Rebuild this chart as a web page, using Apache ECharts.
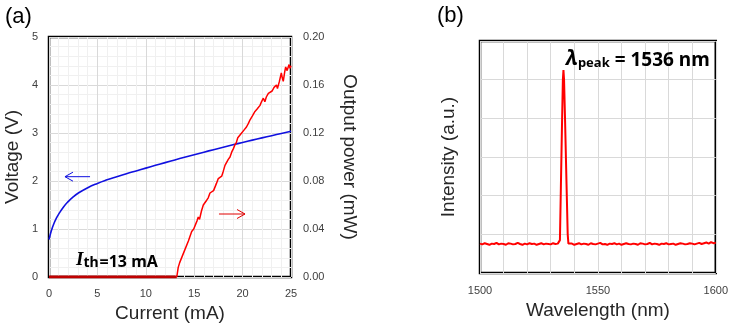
<!DOCTYPE html>
<html><head><meta charset="utf-8">
<script src="https://cdn.jsdelivr.net/npm/echarts@6/dist/echarts.min.js"></script>
<style>html,body{margin:0;padding:0;background:#fff}#c{width:731px;height:329px}</style>
</head><body><div id="c"></div>
<script>
// ---- (a) Voltage vs current ----
const ivCurrent = [0,0.1,0.25,0.5,0.75,1,1.5,2,2.5,3,4,5,6,7,8,9,10,11,12,13,14,15,16,17,18,19,20,21,22,23,24,25];
const ivVoltage = [0.78,0.86,0.97,1.11,1.22,1.31,1.46,1.575,1.67,1.745,1.86,1.95,2.025,2.09,2.152,2.21,2.268,2.326,2.383,2.439,2.494,2.548,2.601,2.653,2.704,2.754,2.803,2.851,2.898,2.944,2.99,3.035];
// ---- (a) Output power vs current ----
const liZeroCurrent = [0,13.2];
const liZeroPower = [0,0];
const liCurrent = [13.2,13.35,13.5,13.8,14.05,14.4,14.74,14.95,15.15,15.3,15.42,15.55,15.75,15.94,16.1,16.29,16.45,16.63,16.8,17.0,17.15,17.3,17.49,17.65,17.84,18.0,18.18,18.35,18.52,18.7,18.87,19.05,19.2,19.35,19.5,19.7,19.9,20.1,20.25,20.4,20.6,20.77,21.0,21.15,21.28,21.5,21.8,21.95,22.14,22.3,22.45,22.66,22.85,23.05,23.25,23.5,23.6,23.8,24.0,24.1,24.2,24.35,24.45,24.6,24.7,24.8,24.9,25.0];
const liPower = [0,0.008,0.012,0.018,0.023,0.03,0.038,0.04,0.041,0.047,0.05,0.048,0.055,0.06,0.061,0.064,0.066,0.07,0.071,0.072,0.073,0.078,0.082,0.081,0.084,0.088,0.093,0.094,0.098,0.1,0.104,0.107,0.11,0.112,0.116,0.117,0.12,0.122,0.121,0.125,0.128,0.131,0.134,0.133,0.138,0.14,0.143,0.146,0.149,0.146,0.15,0.153,0.152,0.155,0.158,0.16,0.157,0.163,0.17,0.166,0.163,0.171,0.175,0.172,0.1725,0.177,0.174,0.176];
// ---- (b) Spectrum ----
const specWl = [1500,1501,1502,1503,1504,1505,1506,1507,1508,1509,1510,1511,1512,1513,1514,1515,1516,1517,1518,1519,1520,1521,1522,1523,1524,1525,1526,1527,1528,1529,1530,1531,1532,1533,
 1533.6,1533.9,1534.3,1534.8,1535.15,1535.4,1535.65,1536.1,1536.7,1537.2,1537.5,
 1538,1539,1540,1541,1542,1543,1544,1545,1546,1547,1548,1549,1550,1551,1552,1553,1554,1555,1556,1557,1558,1559,1560,1561,1562,1563,1564,1565,1566,1567,1568,1569,1570,1571,1572,1573,1574,1575,1576,1577,1578,1579,1580,1581,1582,1583,1584,1585,1586,1587,1588,1589,1590,1591,1592,1593,1594,1595,1596,1597,1598,1599,1600];
const specInt = [0.76,0.74,0.77,0.75,0.73,0.76,0.75,0.78,0.74,0.76,0.75,0.73,0.77,0.76,0.74,0.75,0.78,0.75,0.73,0.76,0.74,0.77,0.75,0.76,0.73,0.75,0.77,0.74,0.76,0.75,0.74,0.77,0.75,0.76,
 0.76,0.85,2.2,3.9,5.0,5.25,5.0,3.9,2.3,1.0,0.76,
 0.74,0.76,0.73,0.75,0.77,0.74,0.76,0.75,0.73,0.77,0.75,0.74,0.76,0.78,0.74,0.75,0.73,0.76,0.75,0.77,0.74,0.76,0.73,0.75,0.77,0.75,0.74,0.76,0.75,0.73,0.77,0.76,0.74,0.75,0.78,0.74,0.76,0.75,0.73,0.76,0.75,0.77,0.74,0.75,0.76,0.73,0.75,0.77,0.76,0.74,0.75,0.77,0.76,0.74,0.76,0.78,0.75,0.77,0.79,0.76,0.8,0.77,0.78];
// tick settings
const xTicksA = {min:0,max:25,interval:5};
const vTicks = {min:0,max:5,interval:1};
const pTicks = {min:0,max:0.2,interval:0.04};
const wlTicks = {min:1500,max:1600,interval:10,labelEvery:50};
const intTicks = {min:0,max:6,interval:1};
// arrows (data units): [x1,y1,x2,y2] head at second point
const arrowV = [4.24,2.09,1.65,2.09];
const arrowP = [17.56,0.0525,20.25,0.0525];

const zip = (a,b)=>a.map((v,i)=>[v,b[i]]);
const SANS = 'Liberation Sans, Arial, sans-serif';
const tickLbl = {color:'#404040',fontSize:11,fontFamily:SANS};
const nameStyle = {color:'#262626',fontSize:19,fontFamily:SANS};
const major = {show:true,lineStyle:{color:'#d9d9d9',width:1}};
const minor = {show:true,lineStyle:{color:'#f0f0f0',width:1}};

const chart = echarts.init(document.getElementById('c'),null,{renderer:'canvas'});
const option = {
  animation:false,
  backgroundColor:'#fff',
  title:[
    {text:'(a)',left:0,top:1,textStyle:{fontSize:22,fontWeight:'normal',fontFamily:SANS,color:'#000'}},
    {text:'(b)',left:432,top:0,textStyle:{fontSize:22,fontWeight:'normal',fontFamily:SANS,color:'#000'}},
    {text:'{i|I}{s|th}{t|=13 mA}',left:71,top:241,textStyle:{rich:{
      i:{fontFamily:'Liberation Serif, serif',fontStyle:'italic',fontWeight:'bold',fontSize:19,color:'#000',lineHeight:24,verticalAlign:'bottom'},
      s:{fontFamily:'Noto Sans',fontWeight:'bold',fontSize:14,color:'#000',lineHeight:16,verticalAlign:'bottom'},
      t:{fontFamily:'Noto Sans',fontWeight:'bold',fontSize:16,color:'#000',lineHeight:24,verticalAlign:'bottom',padding:[0,0,0,1]}}}},
    {text:'{l|λ}{s|peak}{t| = 1536 nm}',left:561,top:39,textStyle:{rich:{
      l:{fontFamily:'Noto Sans',fontStyle:'italic',fontWeight:'bold',fontSize:21,color:'#000',lineHeight:26,verticalAlign:'bottom'},
      s:{fontFamily:'Noto Sans',fontWeight:'bold',fontSize:13,color:'#000',lineHeight:15,verticalAlign:'bottom'},
      t:{fontFamily:'Noto Sans',fontWeight:'bold',fontSize:19,color:'#000',lineHeight:26,verticalAlign:'bottom'}}}}
  ],
  grid:[
    {left:49,right:440,top:37,bottom:52,show:true,borderColor:'#000',borderWidth:2.5,backgroundColor:'transparent'},
    {left:480,right:13,top:41,bottom:56,show:true,borderColor:'#000',borderWidth:2.5,backgroundColor:'transparent'}
  ],
  xAxis:[
    {type:'value',gridIndex:0,min:xTicksA.min,max:xTicksA.max,interval:xTicksA.interval,
     name:'Current (mA)',nameLocation:'middle',nameGap:25,nameTextStyle:nameStyle,
     axisLine:{show:false},axisTick:{show:false},axisLabel:Object.assign({margin:11},tickLbl),
     splitLine:major,minorTick:{show:false,splitNumber:5},minorSplitLine:minor},
    {type:'value',gridIndex:1,min:wlTicks.min,max:wlTicks.max,interval:wlTicks.interval,
     name:'Wavelength (nm)',nameLocation:'middle',nameGap:27,nameTextStyle:nameStyle,
     axisLine:{show:false},axisTick:{show:false},
     axisLabel:Object.assign({margin:12,formatter:v=>(v%wlTicks.labelEvery===0?String(v):'')},tickLbl),
     splitLine:major}
  ],
  yAxis:[
    {type:'value',gridIndex:0,min:vTicks.min,max:vTicks.max,interval:vTicks.interval,
     name:'Voltage (V)',nameLocation:'middle',nameGap:27,nameTextStyle:nameStyle,
     axisLine:{show:false},axisTick:{show:false},axisLabel:Object.assign({margin:11},tickLbl),
     splitLine:major,minorTick:{show:false,splitNumber:5},minorSplitLine:minor},
    {type:'value',gridIndex:0,position:'right',min:pTicks.min,max:pTicks.max,interval:pTicks.interval,
     name:'Output power (mW)',nameLocation:'middle',nameGap:49,nameRotate:-90,nameTextStyle:nameStyle,
     axisLine:{show:false},axisTick:{show:false},
     axisLabel:Object.assign({margin:12,formatter:v=>v.toFixed(2)},tickLbl),splitLine:{show:false}},
    {type:'value',gridIndex:1,min:intTicks.min,max:intTicks.max,interval:intTicks.interval,
     name:'Intensity (a.u.)',nameLocation:'middle',nameGap:22,nameTextStyle:nameStyle,
     axisLine:{show:false},axisTick:{show:false},axisLabel:{show:false},splitLine:major}
  ],
  series:[
    {type:'line',xAxisIndex:0,yAxisIndex:0,data:zip(ivCurrent,ivVoltage),smooth:0.5,showSymbol:false,
     lineStyle:{color:'#1010e0',width:1.6},z:3},
    {type:'line',xAxisIndex:0,yAxisIndex:1,data:zip(liZeroCurrent,liZeroPower),showSymbol:false,
     lineStyle:{color:'#c00000',width:3},z:4},
    {type:'line',xAxisIndex:0,yAxisIndex:1,data:zip(liCurrent,liPower),showSymbol:false,
     lineStyle:{color:'#ff0000',width:1.5},z:4},
    {type:'line',xAxisIndex:1,yAxisIndex:2,data:zip(specWl,specInt),showSymbol:false,
     lineStyle:{color:'#ff0000',width:2},z:4}
  ]
};
chart.setOption(option);

function arrow(a, yIdx, color){
  const p1 = chart.convertToPixel({xAxisIndex:0,yAxisIndex:yIdx},[a[0],a[1]]);
  const p2 = chart.convertToPixel({xAxisIndex:0,yAxisIndex:yIdx},[a[2],a[3]]);
  const dir = Math.sign(p1[0]-p2[0]);
  return [
    {type:'line',shape:{x1:p1[0],y1:p1[1],x2:p2[0],y2:p2[1]},style:{stroke:color,lineWidth:1},z:10},
    {type:'polyline',shape:{points:[[p2[0]+dir*8,p2[1]-4.5],[p2[0],p2[1]],[p2[0]+dir*8,p2[1]+4.5]]},style:{stroke:color,lineWidth:1,fill:null},z:10}
  ];
}
chart.setOption({graphic:[...arrow(arrowV,0,'#1010e0'),...arrow(arrowP,1,'#e00000')]});
</script></body></html>
